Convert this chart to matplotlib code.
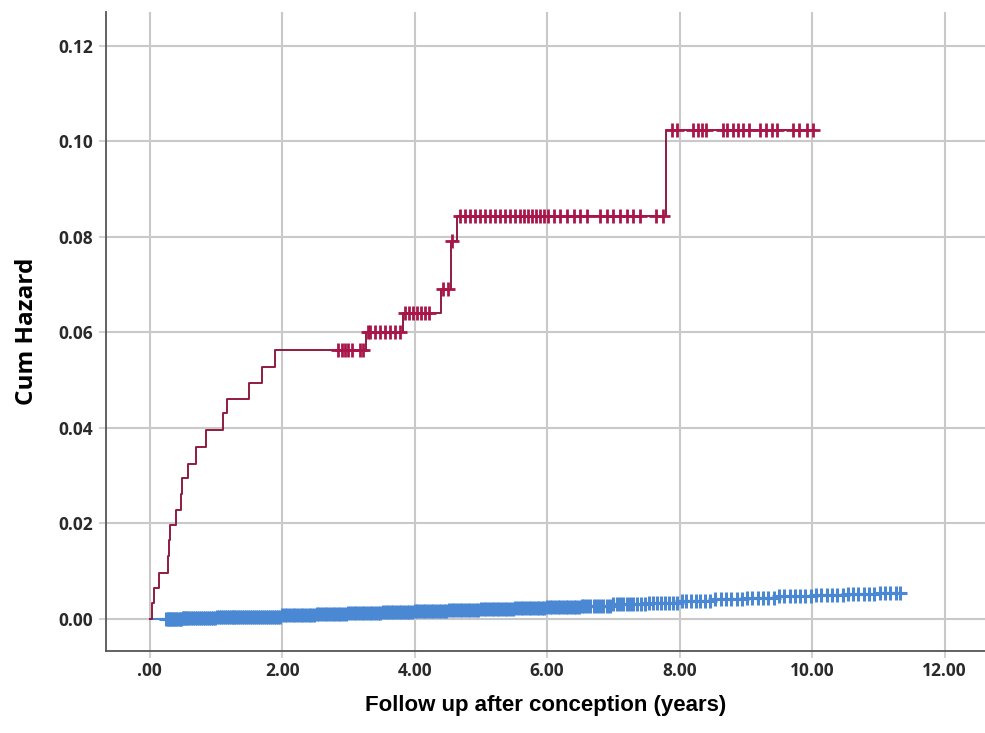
import numpy as np
import matplotlib
matplotlib.use("Agg")
import matplotlib.pyplot as plt

# ---- Red group: event times and cumulative hazard after each step ----
red_step_t = [0.00, 0.03, 0.07, 0.14, 0.28, 0.29, 0.30, 0.39, 0.47, 0.49, 0.58, 0.70,
              0.85, 1.11, 1.16, 1.50, 1.70, 1.89, 3.27, 3.82, 4.39, 4.55, 4.64, 7.80]
red_step_h = [0.0000, 0.0033, 0.0064, 0.0097, 0.0131, 0.0165, 0.0196, 0.0227, 0.0262, 0.0294,
              0.0325, 0.0360, 0.0396, 0.0430, 0.0461, 0.0494, 0.0528, 0.0563, 0.0600, 0.0641,
              0.0690, 0.0792, 0.0843, 0.1024]
red_end = 10.05
red_censor_t = [2.84, 2.90, 2.95, 3.00, 3.05, 3.17, 3.22, 3.29,
                3.32, 3.40, 3.47, 3.55, 3.63, 3.70, 3.78,
                3.85, 3.92, 3.98, 4.04, 4.10, 4.16, 4.22,
                4.43, 4.51, 4.57,
                4.68, 4.76, 4.83, 4.91, 4.98, 5.06, 5.14, 5.21, 5.29, 5.36, 5.44, 5.52,
                5.59, 5.65, 5.71, 5.77, 5.83, 5.89, 5.95, 6.01, 6.10, 6.20, 6.30, 6.40,
                6.50, 6.60, 6.80, 6.90, 7.00, 7.10, 7.20, 7.30, 7.40, 7.65, 7.75,
                7.88, 7.96, 8.20, 8.27, 8.34, 8.40, 8.65, 8.72, 8.80, 8.88, 8.96, 9.05,
                9.21, 9.30, 9.40, 9.47, 9.71, 9.80, 9.93, 10.02]

# ---- Blue group: cumulative hazard steps and censored times ----
blue_step_t = [0.00, 0.50, 1.00, 1.50, 2.00, 2.50, 3.00, 3.50, 4.00, 4.50, 5.00, 5.50,
               6.00, 6.50, 7.00, 7.50, 8.00, 8.50, 9.00, 9.50, 10.00, 10.50, 11.00]
blue_step_h = [0.0000, 0.0001, 0.0003, 0.0005, 0.0008, 0.0010, 0.0012, 0.0014, 0.0017, 0.0019,
               0.0021, 0.0023, 0.0025, 0.0028, 0.0031, 0.0034, 0.0038, 0.0041, 0.0044, 0.0047,
               0.0050, 0.0052, 0.0054]
blue_end = 11.32
blue_censor_t = [
    0.25, 0.27, 0.29, 0.31, 0.33, 0.35, 0.38, 0.40, 0.42, 0.45, 0.47, 0.50, 0.52, 0.55,
    0.57, 0.60, 0.63, 0.65, 0.68, 0.71, 0.74, 0.77, 0.80, 0.83, 0.86, 0.89, 0.92, 0.95,
    0.98, 1.01, 1.04, 1.07, 1.10, 1.13, 1.16, 1.19, 1.22, 1.25, 1.28, 1.31, 1.34, 1.37,
    1.40, 1.43, 1.46, 1.49, 1.52, 1.55, 1.58, 1.61, 1.64, 1.67, 1.70, 1.73, 1.76, 1.79,
    1.82, 1.85, 1.88, 1.91, 1.94, 1.97, 2.00, 2.04, 2.08, 2.12, 2.16, 2.20, 2.24, 2.28,
    2.32, 2.36, 2.40, 2.44, 2.48, 2.52, 2.56, 2.60, 2.64, 2.68, 2.72, 2.76, 2.80, 2.84,
    2.88, 2.92, 2.96, 3.00, 3.04, 3.08, 3.12, 3.16, 3.20, 3.24, 3.28, 3.32, 3.36, 3.40,
    3.44, 3.48, 3.52, 3.56, 3.60, 3.64, 3.68, 3.72, 3.76, 3.80, 3.84, 3.88, 3.92, 3.96,
    4.00, 4.04, 4.08, 4.12, 4.16, 4.20, 4.24, 4.28, 4.32, 4.36, 4.40, 4.44, 4.48, 4.52,
    4.56, 4.60, 4.64, 4.68, 4.72, 4.76, 4.80, 4.84, 4.88, 4.92, 4.96, 5.00, 5.04, 5.08,
    5.12, 5.16, 5.20, 5.24, 5.28, 5.32, 5.36, 5.40, 5.44, 5.48, 5.52, 5.56, 5.60, 5.64,
    5.68, 5.72, 5.76, 5.80, 5.84, 5.88, 5.92, 5.96, 6.00, 6.04, 6.08, 6.12, 6.16, 6.20,
    6.24, 6.28, 6.32, 6.36, 6.40, 6.44, 6.48, 6.52, 6.56, 6.60, 6.65, 6.70, 6.75, 6.80,
    6.85, 6.90, 6.95, 7.00, 7.05, 7.10, 7.15, 7.20, 7.25, 7.30, 7.36, 7.42, 7.48, 7.54,
    7.60, 7.66, 7.72, 7.78, 7.84, 7.90, 7.96, 8.03, 8.10, 8.17, 8.24, 8.31, 8.38, 8.46,
    8.54, 8.62, 8.70, 8.78, 8.86, 8.94, 9.02, 9.10, 9.18, 9.26, 9.34, 9.42, 9.50, 9.58,
    9.66, 9.74, 9.82, 9.90, 9.98, 10.06, 10.14, 10.22, 10.30, 10.38, 10.46, 10.54,
    10.62, 10.70, 10.78, 10.86, 10.94, 11.02, 11.10, 11.18, 11.26, 11.32]

x_ticks = [0, 2, 4, 6, 8, 10, 12]
x_ticklabels = [".00", "2.00", "4.00", "6.00", "8.00", "10.00", "12.00"]
y_ticks = [0.00, 0.02, 0.04, 0.06, 0.08, 0.10, 0.12]
y_ticklabels = ["0.00", "0.02", "0.04", "0.06", "0.08", "0.10", "0.12"]

plt.rcParams['font.family'] = ['Open Sans', 'DejaVu Sans']

fig = plt.figure(figsize=(9.85, 7.33), dpi=100)
ax = fig.add_axes([0.1076, 0.112, 0.8924, 0.872])

def step_value(tt, st, sh):
    idx = np.searchsorted(np.asarray(st), np.asarray(tt), side='right') - 1
    return np.asarray(sh)[idx]

BLUE = '#4a88d4'
# blue
bx = list(blue_step_t) + [blue_end]
by = list(blue_step_h) + [blue_step_h[-1]]
ax.step(bx, by, where='post', color=BLUE, lw=1.5, zorder=3)
ax.plot(blue_censor_t, step_value(blue_censor_t, blue_step_t, blue_step_h), ls='none',
        marker='+', ms=10, mew=2.2, color=BLUE, zorder=3)

# red
rx = list(red_step_t) + [red_end]
ry = list(red_step_h) + [red_step_h[-1]]
ax.step(rx, ry, where='post', color='#8e1c3e', lw=1.4, zorder=4)
ax.plot(red_censor_t, step_value(red_censor_t, red_step_t, red_step_h), ls='none',
        marker='+', ms=10, mew=2.0, color='#a8164a', zorder=4)

ax.set_xlim(-0.66, 12.61)
ax.set_ylim(-0.0067, 0.1271)
ax.set_xticks(x_ticks)
ax.set_xticklabels(x_ticklabels)
ax.set_yticks(y_ticks)
ax.set_yticklabels(y_ticklabels)
ax.grid(True, color='#c9c9c9', lw=1.5)
ax.set_axisbelow(True)
for s in ['top', 'right']:
    ax.spines[s].set_visible(False)
for s in ['left', 'bottom']:
    ax.spines[s].set_color('#555555')
    ax.spines[s].set_linewidth(1.3)
ax.tick_params(axis='both', length=5, color='#c9c9c9', width=1.2,
               labelsize=12.5, labelcolor='#2a2a2a')
ax.tick_params(axis='x', pad=3)
ax.tick_params(axis='y', pad=4)
for lab in ax.get_xticklabels() + ax.get_yticklabels():
    lab.set_fontweight('bold')

ax.set_xlabel('Follow up after conception (years)', fontsize=16, fontweight='bold',
              family=['Liberation Sans', 'DejaVu Sans'], labelpad=11)
ax.set_ylabel('Cum Hazard', fontsize=17.5, fontweight='bold', labelpad=14)

fig.savefig('out.png', dpi=100)
